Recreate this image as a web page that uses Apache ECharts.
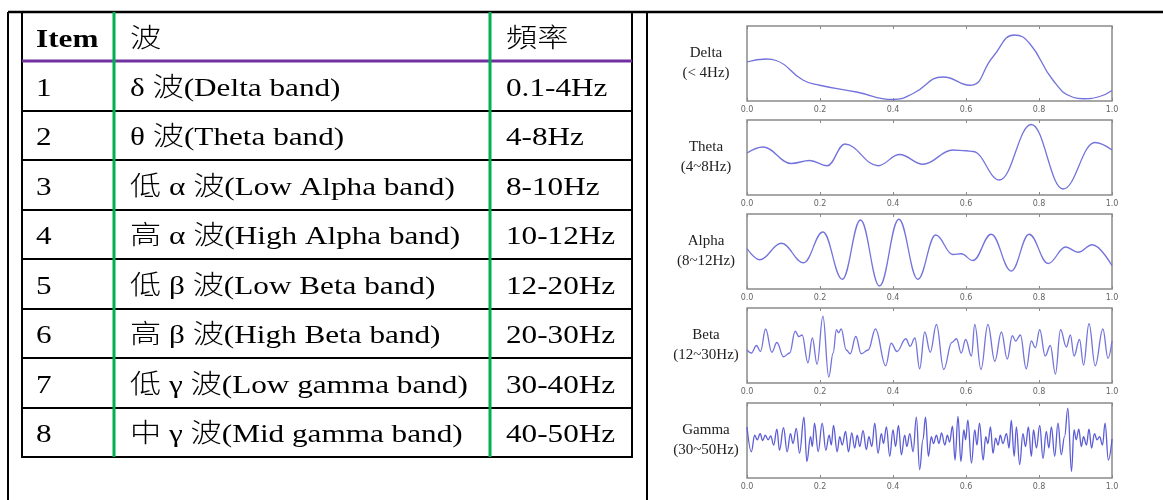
<!DOCTYPE html>
<html><head><meta charset="utf-8">
<script src="https://cdn.jsdelivr.net/npm/echarts@6/dist/echarts.min.js"></script>
<style>html,body{margin:0;padding:0;background:#fff}#c{width:1163px;height:500px}</style>
</head><body><div id="c"></div>
<script>
// ---------- data ----------
const tableHeaders = ['Item', '波', '頻率'];
const itemNumbers = ['1', '2', '3', '4', '5', '6', '7', '8'];
const bandNames = [
  'δ 波(Delta band)', 'θ 波(Theta band)', '低 α 波(Low Alpha band)', '高 α 波(High Alpha band)',
  '低 β 波(Low Beta band)', '高 β 波(High Beta band)', '低 γ 波(Low gamma band)', '中 γ 波(Mid gamma band)'
];
const bandFreqs = ['0.1-4Hz', '4-8Hz', '8-10Hz', '10-12Hz', '12-20Hz', '20-30Hz', '30-40Hz', '40-50Hz'];

const waveNames = ['Delta', 'Theta', 'Alpha', 'Beta', 'Gamma'];
const waveRanges = ['(< 4Hz)', '(4~8Hz)', '(8~12Hz)', '(12~30Hz)', '(30~50Hz)'];
const xTickLabels = ['0.0', '0.2', '0.4', '0.6', '0.8', '1.0'];

// [time in ms, relative amplitude 0..100]
const deltaWave = [[0,52],[53,56],[80,54],[153,28],[199,21],[300,12],[400,2],[455,10],[537,32],[610,21],[674,59],[733,88],[774,77],[838,28],[893,5],[921,3],[966,6],[1000,14]];
const thetaWave = [[0,56],[44,64],[121,42],[172,46],[220,39],[268,68],[359,39],[418,54],[482,41],[564,60],[600,59],[619,58],[692,20],[779,94],[866,8],[953,70],[1000,60]];
const alphaWave = [[0,54],[35,39],[94,61],[155,35],[208,76],[261,13],[311,92],[363,4],[416,93],[468,13],[517,72],[564,46],[587,47],[619,38],[669,73],[724,24],[773,73],[825,34],[873,56],[907,49],[946,59],[1000,31]];
const betaWave = [[0,44],[12,40],[26,50],[37,42],[51,72],[68,41],[82,54],[100,35],[117,40],[132,69],[142,62],[151,64],[167,27],[179,60],[192,25],[208,89],[224,8],[236,40],[245,71],[251,67],[258,72],[272,44],[283,39],[298,62],[313,39],[332,44],[352,72],[380,23],[395,53],[411,42],[435,59],[447,49],[460,60],[473,19],[487,68],[502,41],[519,78],[539,18],[561,54],[574,59],[587,40],[599,58],[615,36],[624,78],[641,18],[660,78],[679,29],[697,68],[713,32],[727,63],[736,56],[749,64],[765,19],[779,56],[790,47],[802,71],[817,36],[831,50],[845,12],[859,71],[875,48],[886,64],[896,36],[911,58],[922,24],[937,79],[954,23],[975,72],[989,33],[1000,56]];
const gammaWave = [[0,68],[12,35],[21,57],[28,51],[36,59],[43,50],[50,57],[58,51],[65,56],[73,44],[82,65],[89,37],[100,67],[110,35],[119,59],[126,46],[135,66],[144,33],[156,81],[164,22],[174,55],[179,42],[185,73],[195,35],[206,73],[216,37],[225,57],[231,44],[237,70],[247,35],[254,55],[261,44],[270,62],[278,35],[287,60],[295,40],[302,57],[309,42],[318,63],[327,38],[334,55],[342,42],[350,73],[359,33],[368,59],[374,46],[382,68],[391,29],[400,64],[407,42],[415,70],[423,31],[432,57],[438,42],[446,59],[455,35],[464,81],[473,11],[482,51],[489,81],[497,29],[505,55],[511,46],[519,57],[526,46],[533,60],[542,44],[549,57],[555,48],[563,69],[570,24],[578,82],[586,22],[594,64],[599,51],[605,77],[615,20],[624,64],[630,44],[637,73],[647,24],[654,55],[660,46],[667,68],[674,33],[681,53],[688,44],[694,57],[701,46],[711,59],[718,40],[724,77],[732,29],[738,68],[747,18],[756,59],[763,42],[771,68],[779,29],[785,64],[793,40],[802,70],[811,26],[820,62],[827,40],[834,68],[843,29],[852,73],[861,31],[870,55],[879,93],[889,9],[896,64],[902,51],[909,65],[916,42],[922,55],[930,44],[937,65],[944,40],[952,59],[959,51],[966,55],[974,44],[981,73],[990,24],[1000,52]];

// ---------- layout ----------
const waves = [deltaWave, thetaWave, alphaWave, betaWave, gammaWave];
const smoothMono = [false, true, true, true, true];
const plotLeft = 747, plotWidth = 365, plotHeight = 75;
const plotTops = [26, 120, 214, 308, 403];
const labelX = 706;

const tblLeft = 22, tblRight = 632, tblTop = 12, headH = 49, rowH = 49.5;
const colLines = [114, 490];
const colTextX = [36, 130, 506];
const serif = "'Liberation Serif','Times New Roman','Noto Sans CJK TC',serif";
const textScale = 1.2;

const chart = echarts.init(document.getElementById('c'), null, { renderer: 'canvas' });

const grids = [], xAxes = [], yAxes = [], series = [];
waves.forEach((w, i) => {
  grids.push({ left: plotLeft, top: plotTops[i], width: plotWidth, height: plotHeight,
    show: true, borderColor: '#8a8a8a', borderWidth: 1.5, backgroundColor: 'transparent', containLabel: false });
  const common = {
    type: 'value', gridIndex: i, min: 0, max: 1000, interval: 200,
    axisLine: { show: false }, splitLine: { show: false },
    axisTick: { show: true, inside: true, length: 3, lineStyle: { color: '#8a8a8a', width: 1 } }
  };
  xAxes.push(Object.assign({}, common, {
    position: 'bottom',
    axisLabel: { show: true, fontSize: 8, color: '#666', margin: 5, fontFamily: 'DejaVu Sans',
      formatter: v => xTickLabels[Math.round(v / 200)] }
  }));
  xAxes.push(Object.assign({}, common, { position: 'top', axisLabel: { show: false } }));
  yAxes.push({ type: 'value', gridIndex: i, min: 0, max: 100, show: false });
  series.push({
    type: 'line', xAxisIndex: i * 2, yAxisIndex: i, data: w,
    smooth: smoothMono[i] ? 0.4 : 0.5, smoothMonotone: smoothMono[i] ? 'x' : undefined,
    showSymbol: false, symbol: 'none', silent: true,
    lineStyle: { color: i === 4 ? '#5c5cd6' : '#7373dc', width: 1.3 }
  });
});

const graphics = [];
// outer frame
const stroke = (x1, y1, x2, y2, color, w) => graphics.push({ type: 'line', silent: true,
  shape: { x1, y1, x2, y2 }, style: { stroke: color, lineWidth: w } });
stroke(8, 12, 1163, 12, '#000', 2.5);
stroke(8, 12, 8, 500, '#000', 2);
stroke(647, 12, 647, 500, '#000', 2);
// table
const tblBottom = tblTop + headH + rowH * itemNumbers.length;
graphics.push({ type: 'rect', silent: true, shape: { x: tblLeft, y: tblTop, width: tblRight - tblLeft, height: tblBottom - tblTop },
  style: { fill: 'none', stroke: '#000', lineWidth: 2 } });
for (let r = 1; r < itemNumbers.length; r++) {
  const y = Math.round(tblTop + headH + rowH * r);
  stroke(tblLeft, y, tblRight, y, '#000', 2);
}
stroke(tblLeft, tblTop + headH, tblRight, tblTop + headH, '#7030a0', 3);
colLines.forEach(x => stroke(x, tblTop, x, tblBottom, '#00b050', 3));

const addText = (txt, x, y, bold) => graphics.push({ type: 'text', silent: true, x, y, scaleX: textScale,
  style: { text: txt, x: 0, y: 0, fill: '#000', font: (bold ? 'bold ' : '300 ') + '26px ' + serif,
    textAlign: 'left', textVerticalAlign: 'middle' } });
tableHeaders.forEach((h, c) => addText(h, colTextX[c], tblTop + headH / 2 + 4, c === 0));
itemNumbers.forEach((n, r) => {
  const yc = tblTop + headH + rowH * r + rowH / 2 + 3;
  addText(n, colTextX[0], yc, false);
  addText(bandNames[r], colTextX[1], yc, false);
  addText(bandFreqs[r], colTextX[2], yc, false);
});
// wave labels
waveNames.forEach((n, i) => {
  const yc = plotTops[i] + plotHeight / 2;
  graphics.push({ type: 'text', silent: true, x: labelX, y: yc,
    style: { text: n + '\n' + waveRanges[i], fill: '#222', font: '15px ' + serif, lineHeight: 20,
      textAlign: 'center', textVerticalAlign: 'middle' } });
});

chart.setOption({
  backgroundColor: '#fff',
  animation: false,
  grid: grids, xAxis: xAxes, yAxis: yAxes, series: series,
  graphic: graphics
});
</script></body></html>
